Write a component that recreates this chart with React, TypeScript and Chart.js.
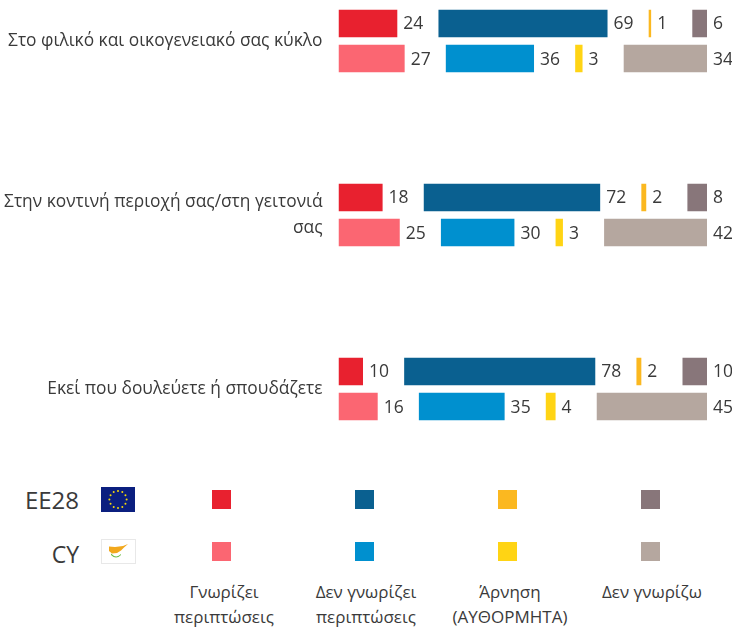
import React, { useEffect, useRef } from "react";
import { Chart, registerables } from "chart.js";

Chart.register(...registerables);

const categories: (string | string[])[] = [
  "Στο φιλικό και οικογενειακό σας κύκλο",
  ["Στην κοντινή περιοχή σας/στη γειτονιά", "σας"],
  "Εκεί που δουλεύετε ή σπουδάζετε",
];
const seriesNames = ["Γνωρίζει περιπτώσεις", "Δεν γνωρίζει περιπτώσεις", "Άρνηση (ΑΥΘΟΡΜΗΤΑ)", "Δεν γνωρίζω"];
const legendLines = [["Γνωρίζει", "περιπτώσεις"], ["Δεν γνωρίζει", "περιπτώσεις"], ["Άρνηση", "(ΑΥΘΟΡΜΗΤΑ)"], ["Δεν γνωρίζω"]];
const eu28Values = [
  [24, 18, 10],
  [69, 72, 78],
  [1, 2, 2],
  [6, 8, 10],
];
const cyValues = [
  [27, 25, 16],
  [36, 30, 35],
  [3, 3, 4],
  [34, 42, 45],
];
const eu28Colors = ["#E8212F", "#0A6090", "#FBB820", "#88767A"];
const cyColors = ["#FB6672", "#0090CF", "#FFD414", "#B5A79F"];
const spacer = [16.8, 16.8, 16.8];

const FONT = '"Open Sans", sans-serif';
const TEXT = "#3a3a3a";

function buildDatasets(stack: string, values: number[][], colors: string[]) {
  const out: any[] = [];
  values.forEach((data, i) => {
    out.push({ label: `${stack} ${seriesNames[i]}`, stack, data, backgroundColor: colors[i], isValue: true });
    if (i < values.length - 1) {
      out.push({ label: `${stack} gap ${i}`, stack, data: spacer, backgroundColor: "rgba(0,0,0,0)", isValue: false });
    }
  });
  return out;
}

const valueLabels = {
  id: "valueLabels",
  afterDatasetsDraw(chart: any) {
    const { ctx } = chart;
    ctx.save();
    ctx.font = `17.5px ${FONT}`;
    ctx.fillStyle = TEXT;
    ctx.textAlign = "left";
    ctx.textBaseline = "middle";
    chart.data.datasets.forEach((ds: any, d: number) => {
      if (!ds.isValue) return;
      chart.getDatasetMeta(d).data.forEach((bar: any, i: number) => {
        ctx.fillText(String(ds.data[i]), bar.x + 6, bar.y + 1);
      });
    });
    ctx.restore();
  },
};

const abs = (left: number, top: number, width: number, height: number): React.CSSProperties => ({
  position: "absolute",
  left,
  top,
  width,
  height,
});

const legendXs = [212, 355, 498, 641];
const legendCenters = [224, 366, 510, 652];

function EuFlag() {
  const stars = [0, 1, 2, 3, 4, 5, 6, 7, 8, 9, 10, 11];
  return (
    <svg style={abs(101, 487, 34, 25)} viewBox="0 0 34 25">
      <rect width="34" height="25" fill="#0B1F7F" />
      {stars.map((s) => (
        <circle
          key={s}
          cx={17 + 8.6 * Math.cos((s * Math.PI) / 6)}
          cy={12.5 + 8.6 * Math.sin((s * Math.PI) / 6)}
          r="1"
          fill="#F5D90A"
        />
      ))}
    </svg>
  );
}

function CyFlag() {
  return (
    <svg style={abs(101, 539, 35, 25)} viewBox="0 0 35 25">
      <rect x="0.5" y="0.5" width="34" height="24" fill="#ffffff" stroke="#e8e8e8" />
      <path d="M8 7.5 L14 8 L22 7 L27 5 L23 8.5 L20 11.5 L16 14 L11 14.5 L8 12 Z" fill="#F2A81D" />
      <path d="M10 14.5 Q15 20 20 15 L20 16 Q15 21 10 16 Z" fill="#6FBE4A" />
    </svg>
  );
}

export default function App() {
  const ref = useRef<HTMLCanvasElement>(null);
  useEffect(() => {
    const chart = new Chart(ref.current!, {
      type: "bar",
      data: {
        labels: categories as any,
        datasets: [...buildDatasets("EE28", eu28Values, eu28Colors), ...buildDatasets("CY", cyValues, cyColors)],
      },
      plugins: [valueLabels],
      options: {
        indexAxis: "y",
        responsive: false,
        animation: false,
        categoryPercentage: 0.4035,
        barPercentage: 0.786,
        layout: { padding: { left: 0, right: 25, top: 0, bottom: 0 } },
        plugins: { legend: { display: false }, tooltip: { enabled: false } },
        scales: {
          x: { stacked: true, display: false, min: 0, max: 150.4 },
          y: {
            stacked: true,
            grid: { display: false },
            border: { display: false },
            afterFit: (s: any) => {
              s.width = 338.5;
              s.paddingTop = 0;
              s.paddingBottom = 0;
            },
            ticks: {
              color: TEXT,
              padding: 8,
              autoSkip: false,
              font: { family: FONT, size: 17.35, lineHeight: 1.45 },
            },
          },
        },
      } as any,
    });
    return () => chart.destroy();
  }, []);

  return (
    <div style={{ ...abs(0, 0, 732, 628), overflow: "hidden", background: "#fff", fontFamily: FONT, color: TEXT }}>
      <canvas ref={ref} width={732} height={522} style={{ ...abs(0, -46, 732, 522), display: "block" }} />
      <div style={{ ...abs(0, 483, 79, 34), textAlign: "right", fontSize: 24, lineHeight: "34px" }}>EE28</div>
      <div style={{ ...abs(0, 537, 79, 34), textAlign: "right", fontSize: 23, lineHeight: "34px" }}>CY</div>
      <EuFlag />
      <CyFlag />
      {legendXs.map((x, i) => (
        <React.Fragment key={i}>
          <div style={{ ...abs(x, 490, 19, 19), background: eu28Colors[i] }} />
          <div style={{ ...abs(x, 542, 19, 19), background: cyColors[i] }} />
          <div
            style={{
              ...abs(legendCenters[i] - 70, 579, 140, 50),
              textAlign: "center",
              fontSize: 17,
              lineHeight: "25px",
            }}
          >
            {legendLines[i].map((l) => (
              <div key={l}>{l}</div>
            ))}
          </div>
        </React.Fragment>
      ))}
    </div>
  );
}
